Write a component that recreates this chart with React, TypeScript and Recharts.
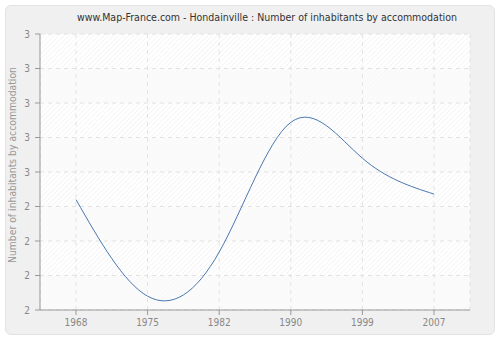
import React from "react";
import {
  CartesianGrid,
  Line,
  LineChart,
  XAxis,
  YAxis,
} from "recharts";

// census years and inhabitants per accommodation
const YEARS = ["1968", "1975", "1982", "1990", "1999", "2007"];
const INHABITANTS = [2.4, 2.05, 2.21, 2.68, 2.55, 2.42];
const Y_TICKS = [2, 2.125, 2.25, 2.375, 2.5, 2.625, 2.75, 2.875, 3];

const data = YEARS.map((year, i) => ({ year, value: INHABITANTS[i] }));

const AXIS_COLOR = "#999";
const FONT = "'DejaVu Sans Condensed', 'DejaVu Sans', Verdana, sans-serif";

const YLabel = (props: any) => {
  const { viewBox } = props;
  const cy = viewBox.y + viewBox.height / 2 - 7;
  return (
    <text
      x={13}
      y={cy}
      transform={`rotate(-90, 13, ${cy})`}
      textAnchor="middle"
      dominantBaseline="middle"
      fill="#999"
      fontSize={10.3}
      fontFamily={FONT}
    >
      Number of inhabitants by accommodation
    </text>
  );
};

const App = () => {
  return (
    <div style={{ position: "absolute", left: 0, top: 0, width: 500, height: 340 }}>
      <div
        style={{
          position: "absolute",
          left: 5,
          top: 5,
          width: 488,
          height: 328,
          background: "#f0f0f0",
          border: "1px solid #e2e2e2",
          borderRadius: 6,
        }}
      />
      <div
        style={{
          position: "absolute",
          left: 0,
          top: 11,
          width: 534,
          textAlign: "center",
          fontFamily: FONT,
          fontSize: 10.5,
          color: "#333",
        }}
      >
        www.Map-France.com - Hondainville : Number of inhabitants by accommodation
      </div>
      <div style={{ position: "absolute", left: 0, top: 0 }}>
        <LineChart
          width={500}
          height={340}
          data={data}
          margin={{ top: 34, right: 30, bottom: 0, left: 0 }}
        >
          <defs>
            <pattern
              id="hatch"
              width="3.5"
              height="3.5"
              patternUnits="userSpaceOnUse"
              patternTransform="rotate(45)"
            >
              <rect width="3.5" height="3.5" fill="#ffffff" />
              <line x1="0" y1="0" x2="0" y2="3.5" stroke="#ececec" strokeWidth="1" />
            </pattern>
          </defs>
          <CartesianGrid
            fill="url(#hatch)"
            stroke="#e2e2e2"
            strokeDasharray="4 4"
            horizontalFill={["rgba(255,255,255,0)", "rgba(249,249,249,0.75)"]}
          />
          <XAxis
            dataKey="year"
            height={30}
            padding={{ left: 36, right: 36 }}
            stroke={AXIS_COLOR}
            tickLine={{ stroke: AXIS_COLOR }}
            tick={{ fill: "#888", fontSize: 10, fontFamily: FONT }}
            tickSize={5}
            tickMargin={4}
          />
          <YAxis
            width={40}
            domain={[2, 3]}
            ticks={Y_TICKS}
            interval={0}
            tickFormatter={(v: number) => String(Math.round(v))}
            stroke={AXIS_COLOR}
            tickLine={{ stroke: AXIS_COLOR }}
            tick={{ fill: "#888", fontSize: 10, fontFamily: FONT }}
            tickSize={5}
            tickMargin={5}
            label={<YLabel />}
          />
          <Line
            type="natural"
            dataKey="value"
            stroke="#4a77b0"
            strokeWidth={1}
            dot={false}
            activeDot={false}
            isAnimationActive={false}
          />
        </LineChart>
      </div>
    </div>
  );
};

export default App;
